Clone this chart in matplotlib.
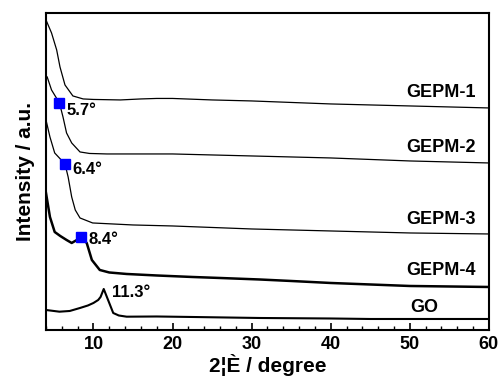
import matplotlib
matplotlib.use("Agg")
import matplotlib.pyplot as plt

plt.rcParams['font.family'] = ['Liberation Sans', 'DejaVu Sans']
plt.rcParams['font.weight'] = 'bold'

# Two-theta (degree) and intensity (a.u., offset)
x_gepm1 = [4.0, 4.7, 5.35, 5.77, 6.4, 7.4, 8.7, 10.0, 13.4, 16.0, 18.0, 20.0, 25.0, 30.0, 35.0, 40.0, 45.0, 50.0, 55.0, 60.0]
y_gepm1 = [310, 297, 280, 263, 245, 234, 231, 230.5, 230, 231, 231.5, 231.5, 230, 229, 227.5, 226, 225, 224, 223, 222]

x_gepm2 = [4.15, 4.7, 5.7, 6.15, 6.6, 7.25, 8.3, 9.5, 11.7, 15.0, 20.0, 25.0, 30.0, 35.0, 40.0, 45.0, 50.0, 55.0, 60.0]
y_gepm2 = [253, 240, 227, 213, 197, 187, 178, 176.5, 176, 176, 176, 175, 174, 173, 172, 170.5, 169, 168, 167]

x_gepm3 = [4.0, 4.5, 5.1, 6.4, 6.8, 7.25, 7.7, 8.3, 9.9, 15.0, 20.0, 25.0, 30.0, 35.0, 40.0, 45.0, 50.0, 55.0, 60.0]
y_gepm3 = [210, 193, 177, 166, 153, 133, 120, 112, 107, 105, 104, 102.5, 101, 100, 99, 98, 97, 96.5, 96]

x_gepm4 = [4.0, 4.5, 5.1, 5.8, 6.6, 7.25, 7.9, 8.4, 9.15, 9.8, 10.8, 12.0, 14.2, 18.0, 22.5, 26.0, 31.0, 35.0, 40.0, 45.0, 50.0, 55.0, 60.0]
y_gepm4 = [137, 113, 98, 94, 90, 87, 90, 93, 87, 70, 60, 57.5, 56, 54.5, 53, 52, 50.5, 49, 47, 45.5, 44, 43.5, 43]

x_go = [4.0, 5.0, 5.7, 7.0, 8.3, 9.3, 10.0, 10.6, 10.9, 11.3, 11.7, 12.2, 12.5, 13.2, 14.2, 18.0, 22.5, 31.0, 40.0, 45.0, 50.0, 60.0]
y_go = [20, 19, 18.3, 19, 22, 24.5, 27, 30, 33, 41, 33, 23, 17, 14.5, 13.3, 13.5, 13, 12, 11.5, 11, 11, 11]

# Marked peaks (position, intensity on the curve, label)
peak_x = [5.7, 6.4, 8.4]
peak_y = [227, 166, 93]
peak_labels = ["5.7°", "6.4°", "8.4°"]
go_peak_label = "11.3°"

series_names = ["GEPM-1", "GEPM-2", "GEPM-3", "GEPM-4", "GO"]
name_y = [237, 182, 110, 59, 22]

fig = plt.figure(figsize=(5.01, 3.77), dpi=100)
ax = fig.add_axes([0.0918, 0.1247, 0.884, 0.841])

ax.plot(x_gepm1, y_gepm1, color='black', lw=0.9)
ax.plot(x_gepm2, y_gepm2, color='black', lw=0.9)
ax.plot(x_gepm3, y_gepm3, color='black', lw=0.9)
ax.plot(x_gepm4, y_gepm4, color='black', lw=1.8)
ax.plot(x_go, y_go, color='black', lw=1.5)

ax.plot(peak_x, peak_y, 's', color='#0000ff', markersize=6.5, zorder=5)

label_pos = [(6.55, 219), (7.3, 160), (9.35, 90), (12.3, 37)]
for lab, (tx, ty) in zip(peak_labels + [go_peak_label], label_pos):
    ax.text(tx, ty, lab, fontsize=12, fontweight='bold', va='center', ha='left')

for name, ny in zip(series_names, name_y):
    if name == "GO":
        ax.text(51.8, ny, name, fontsize=13, fontweight='bold', va='center', ha='center')
    else:
        ax.text(58.4, ny, name, fontsize=13, fontweight='bold', va='center', ha='right')

ax.set_xlim(4, 60)
ax.set_ylim(0, 317)
ax.set_xticks([10, 20, 30, 40, 50, 60])
ax.set_xticks(range(4, 61, 2), minor=True)
ax.set_yticks([])
ax.tick_params(axis='x', which='major', direction='in', length=5, width=1.2, labelsize=13, pad=4)
ax.tick_params(axis='x', which='minor', direction='in', length=3, width=1.0)
for lab in ax.get_xticklabels():
    lab.set_fontweight('bold')
for sp in ax.spines.values():
    sp.set_linewidth(1.5)

ax.set_xlabel("2¦È / degree", fontsize=15, fontweight='bold', labelpad=1)
ax.set_ylabel("Intensity / a.u.", fontsize=15, fontweight='bold', labelpad=8)

fig.savefig("out.png", dpi=100)
